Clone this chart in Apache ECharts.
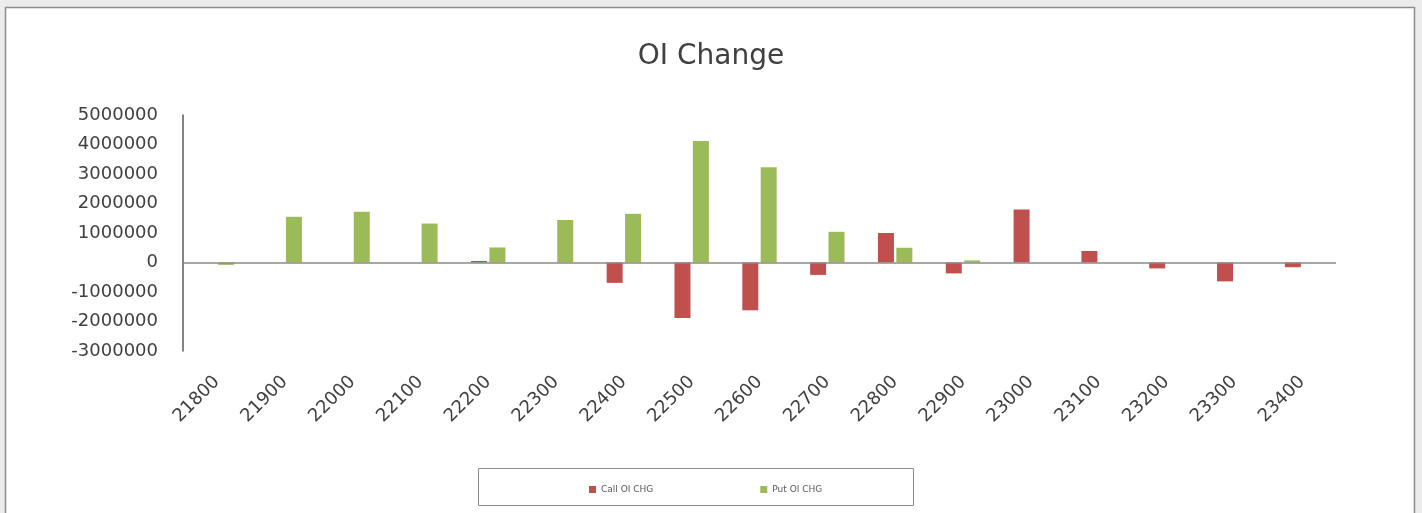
<!DOCTYPE html>
<html>
<head>
<meta charset="utf-8">
<script src="https://cdn.jsdelivr.net/npm/echarts@6/dist/echarts.min.js"></script>
<style>
html,body{margin:0;padding:0;background:#ececec;}
#chart{width:1422px;height:513px;}
</style>
</head>
<body>
<div id="chart"></div>
<script>
var categories = ['21800','21900','22000','22100','22200','22300','22400','22500','22600','22700','22800','22900','23000','23100','23200','23300','23400'];
var callOI = [0, 0, 0, 0, 50000, 0, -690000, -1880000, -1620000, -420000, 1000000, -370000, 1800000, 390000, -200000, -640000, -160000];
var putOI = [-80000, 1550000, 1720000, 1320000, 510000, 1440000, 1650000, 4120000, 3230000, 1040000, 500000, 70000, 0, 0, 0, 0, 0];
var yTicks = {min: -3000000, max: 5000000, interval: 1000000};

var chart = echarts.init(document.getElementById('chart'));
var font = 'DejaVu Sans';
chart.setOption({
  animation: false,
  backgroundColor: '#ececec',
  title: {
    text: 'OI Change',
    left: 'center',
    top: 38,
    textStyle: {fontFamily: font, fontSize: 28, fontWeight: 'normal', color: '#404040'}
  },
  graphic: [
    {type: 'rect', z: -10, shape: {x: 5.5, y: 7.5, width: 1409, height: 520},
     style: {fill: '#ffffff', stroke: '#8c8c8c', lineWidth: 1.5}},
    {type: 'rect', z: -5, shape: {x: 478.5, y: 468.5, width: 435, height: 37},
     style: {fill: '#ffffff', stroke: '#8c8c8c', lineWidth: 1}}
  ],
  legend: {
    left: 584,
    top: 480,
    itemWidth: 7,
    itemHeight: 7,
    itemGap: 107,
    itemTextGap: 2,
    icon: 'rect',
    textStyle: {fontFamily: font, fontSize: 9, color: '#595959'},
    data: ['Call OI CHG', 'Put OI CHG']
  },
  grid: {left: 183, right: 86, top: 115, bottom: 162},
  xAxis: {
    type: 'category',
    data: categories,
    axisLine: {show: false},
    axisTick: {show: false},
    axisLabel: {
      rotate: 45,
      margin: 28,
      interval: 0,
      fontFamily: font,
      fontSize: 18,
      color: '#404040'
    }
  },
  yAxis: {
    type: 'value',
    min: yTicks.min,
    max: yTicks.max,
    interval: yTicks.interval,
    axisLine: {show: true, lineStyle: {color: '#595959', width: 1.5}},
    axisTick: {show: false},
    splitLine: {show: false},
    axisLabel: {
      margin: 25,
      fontFamily: font,
      fontSize: 18,
      color: '#404040',
      formatter: function (v) { return String(v); }
    }
  },
  series: [
    {
      name: 'Call OI CHG',
      type: 'bar',
      data: callOI,
      barWidth: 16,
      barGap: '15%',
      itemStyle: {color: '#C0504D'},
      markLine: {
        silent: true,
        symbol: 'none',
        label: {show: false},
        lineStyle: {color: '#8a8a8a', width: 1.5, type: 'solid'},
        data: [{yAxis: 0}]
      }
    },
    {
      name: 'Put OI CHG',
      type: 'bar',
      data: putOI,
      barWidth: 16,
      barGap: '15%',
      itemStyle: {color: '#9BBB59'}
    }
  ]
});
</script>
</body>
</html>
